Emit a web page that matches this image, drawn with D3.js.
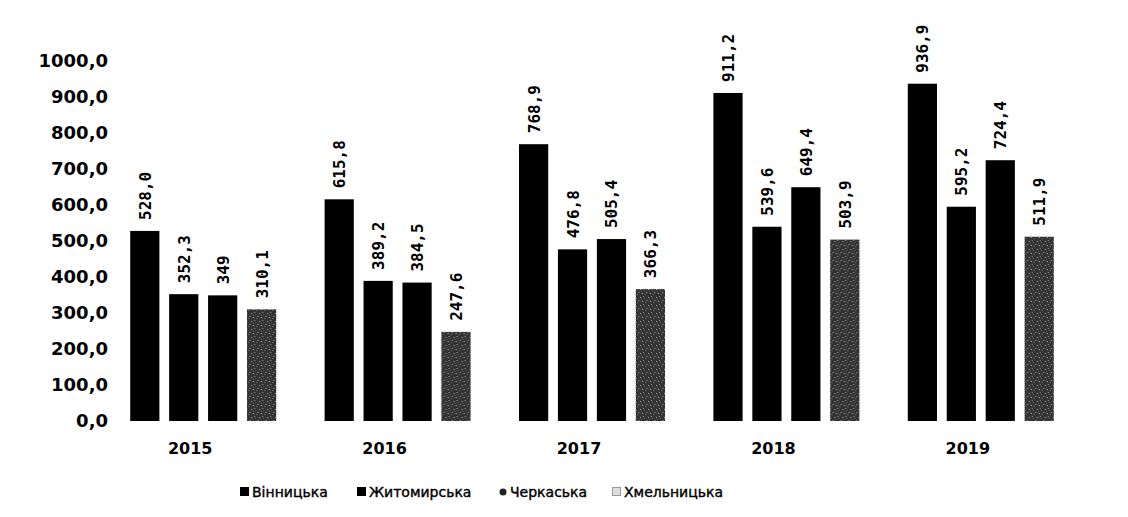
<!DOCTYPE html>
<html>
<head>
<meta charset="utf-8">
<script src="https://cdn.jsdelivr.net/npm/d3@7"></script>
<style>
  body { margin: 0; background: #fff; }
  svg { display: block; }
</style>
</head>
<body>
<svg id="chart"></svg>
<script>
var width = 1128;
var height = 517;

var years = ['2015', '2016', '2017', '2018', '2019'];
var regions = ['Вінницька', 'Житомирська', 'Черкаська', 'Хмельницька'];

var vinnytska = [528.0, 615.8, 768.9, 911.2, 936.9];
var zhytomyrska = [352.3, 389.2, 476.8, 539.6, 595.2];
var cherkaska = [349, 384.5, 505.4, 649.4, 724.4];
var khmelnytska = [310.1, 247.6, 366.3, 503.9, 511.9];

var vinnytskaLabels = ['528,0', '615,8', '768,9', '911,2', '936,9'];
var zhytomyrskaLabels = ['352,3', '389,2', '476,8', '539,6', '595,2'];
var cherkaskaLabels = ['349', '384,5', '505,4', '649,4', '724,4'];
var khmelnytskaLabels = ['310,1', '247,6', '366,3', '503,9', '511,9'];

var yTicks = [0, 100, 200, 300, 400, 500, 600, 700, 800, 900, 1000];

var seriesValues = [vinnytska, zhytomyrska, cherkaska, khmelnytska];
var seriesLabels = [vinnytskaLabels, zhytomyrskaLabels, cherkaskaLabels, khmelnytskaLabels];
var fills = ['#000', '#000', '#000', 'url(#speckle)'];

var svg = d3.select('#chart')
    .attr('width', width)
    .attr('height', height);

// speckled grey fill for the last series
var defs = svg.append('defs');
var pat = defs.append('pattern')
    .attr('id', 'speckle')
    .attr('patternUnits', 'userSpaceOnUse')
    .attr('width', 8)
    .attr('height', 8);
pat.append('rect').attr('width', 8).attr('height', 8).attr('fill', '#333');
[[1, 1, '#aaa'], [5, 2, '#666'], [3, 5, '#bbb'], [6, 6, '#777'], [0, 4, '#555'], [4, 0, '#999'], [2, 3, '#5a5a5a'], [7, 4, '#888']]
  .forEach(function (p) {
    pat.append('rect').attr('x', p[0]).attr('y', p[1]).attr('width', 1).attr('height', 1).attr('fill', p[2]);
  });

var xScale = d3.scaleBand()
    .domain(years)
    .range([106, 1078])
    .paddingInner(0.249)
    .paddingOuter(0.1245);

var xInner = d3.scaleBand()
    .domain(regions)
    .range([0, xScale.bandwidth()])
    .paddingInner(0.25);

var yScale = d3.scaleLinear()
    .domain([0, 1000])
    .range([421, 61]);

var fmt = d3.format('.1f');

var yAxis = d3.axisLeft(yScale)
    .tickValues(yTicks)
    .tickSize(0)
    .tickPadding(0)
    .tickFormat(d => fmt(d).replace('.', ','));

var gy = svg.append('g')
    .attr('transform', 'translate(108,0)')
    .call(yAxis);
gy.select('.domain').remove();
gy.selectAll('text')
    .attr('font-family', 'DejaVu Sans')
    .attr('font-weight', 'bold')
    .attr('font-size', '18px')
    .attr('fill', '#000');

var xAxis = d3.axisBottom(xScale).tickSize(0).tickPadding(0);
var gx = svg.append('g')
    .attr('transform', 'translate(-13,443)')
    .call(xAxis);
gx.select('.domain').remove();
gx.selectAll('text')
    .attr('font-family', 'DejaVu Sans')
    .attr('font-weight', 'bold')
    .attr('font-size', '16px')
    .attr('fill', '#000');

var groups = svg.selectAll('.year')
    .data(years)
    .enter()
  .append('g')
    .attr('class', 'year')
    .attr('transform', d => 'translate(' + xScale(d) + ',0)');

groups.each(function (yr, i) {
  var g = d3.select(this);
  var rows = regions.map((r, k) => ({ region: r, value: seriesValues[k][i], label: seriesLabels[k][i], fill: fills[k] }));

  g.selectAll('rect')
      .data(rows)
      .enter()
    .append('rect')
      .attr('x', d => xInner(d.region))
      .attr('y', d => yScale(d.value))
      .attr('width', xInner.bandwidth())
      .attr('height', d => yScale(0) - yScale(d.value))
      .attr('fill', d => d.fill);

  g.selectAll('text')
      .data(rows)
      .enter()
    .append('text')
      .attr('transform', d => 'translate(' + (xInner(d.region) + xInner.bandwidth() / 2 + 6) + ',' + (yScale(d.value) - 11) + ') rotate(-90)')
      .attr('font-family', 'DejaVu Sans Mono')
      .attr('font-weight', 'bold')
      .attr('font-size', '16px')
      .attr('fill', '#000')
      .text(d => d.label);
});

// legend
var legendX = [240, 357, 498, 612];
var legend = svg.selectAll('.legend')
    .data(regions)
    .enter()
  .append('g')
    .attr('class', 'legend')
    .attr('transform', (d, i) => 'translate(' + legendX[i] + ',492)');

legend.each(function (d, i) {
  var g = d3.select(this);
  if (i < 2) {
    g.append('rect').attr('x', 0).attr('y', -5).attr('width', 9).attr('height', 9).attr('fill', '#000');
  } else if (i === 2) {
    g.append('circle').attr('cx', 5).attr('cy', 0).attr('r', 3.5).attr('fill', '#222');
  } else {
    g.append('rect').attr('x', 0.5).attr('y', -4.5).attr('width', 8).attr('height', 8)
      .attr('fill', '#ddd').attr('stroke', '#999').attr('stroke-width', 1);
  }
  g.append('text')
    .attr('x', 12)
    .attr('y', 5)
    .attr('font-family', 'DejaVu Sans')
    .attr('font-size', '14px')
    .attr('fill', '#000')
    .attr('stroke', '#000')
    .attr('stroke-width', 0.4)
    .text(d);
});
</script>
</body>
</html>
